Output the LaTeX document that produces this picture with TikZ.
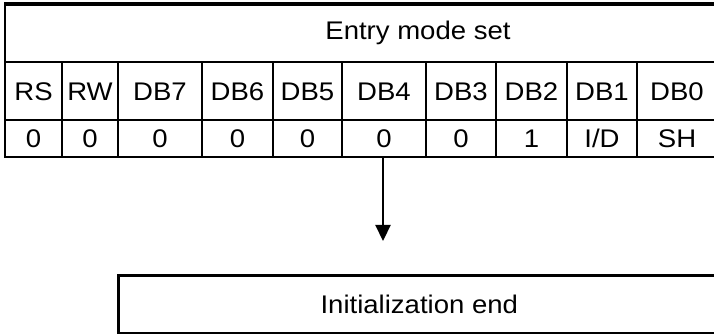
\documentclass[tikz,border=0pt]{standalone}
\usepackage{fontspec}
\setmainfont[FakeStretch=1.08]{Liberation Sans}
\usetikzlibrary{arrows.meta}
\begin{document}
\begin{tikzpicture}[x=1pt,y=-1pt,
  cell/.style={inner sep=0pt, font=\fontsize{25.5}{30}\selectfont},
  rule/.style={line width=2.4pt},
  toprule/.style={line width=3.8pt},
  flow/.style={line width=2.2pt, -{Triangle[length=16pt,width=15pt]}},
  endbox/.style={draw, line width=2.6pt, anchor=north west, minimum width=610pt, minimum height=57.5pt, inner sep=0pt, font=\fontsize{25.5}{30}\selectfont}]
\useasboundingbox (0,0) rectangle (714,336);
% table lines
\draw[toprule] (4,4) -- (720,4);
\draw[rule] (5,3) -- (5,158);
\draw[rule] (4,62) -- (720,62);
\draw[rule] (4,120) -- (720,120);
\draw[rule] (4,157) -- (720,157);
\foreach \x in {62,118,202,273,342,426,496,567,637}
  \draw[rule] (\x,62) -- (\x,157);
% header
\node[cell] (title) at (418,33) {Entry mode set};
% names row
\node[cell] (rs)  at (33.5,92) {RS};
\node[cell] (rw)  at (90,92) {RW};
\node[cell] (db7) at (160,92) {DB7};
\node[cell] (db6) at (237.5,92) {DB6};
\node[cell] (db5) at (307.5,92) {DB5};
\node[cell] (db4) at (384,92) {DB4};
\node[cell] (db3) at (461,92) {DB3};
\node[cell] (db2) at (531.5,92) {DB2};
\node[cell] (db1) at (602,92) {DB1};
\node[cell] (db0) at (677,92) {DB0};
% values row
\node[cell] (vrs)  at (33.5,138.5) {0};
\node[cell] (vrw)  at (90,138.5) {0};
\node[cell] (v7) at (160,138.5) {0};
\node[cell] (v6) at (237.5,138.5) {0};
\node[cell] (v5) at (307.5,138.5) {0};
\node[cell] (v4) at (384,138.5) {0};
\node[cell] (v3) at (461,138.5) {0};
\node[cell] (v2) at (531.5,138.5) {1};
\node[cell] (v1) at (602,138.5) {I/D};
\node[cell] (v0) at (677,138.5) {SH};
% arrow
\coordinate (astart) at (383,158);
\coordinate (aend) at (383,241);
\draw[flow] (astart) -- (aend);
% end box
\node[endbox] (endnode) at (117,274) {\hspace*{-8pt}Initialization end};
\end{tikzpicture}
\end{document}
